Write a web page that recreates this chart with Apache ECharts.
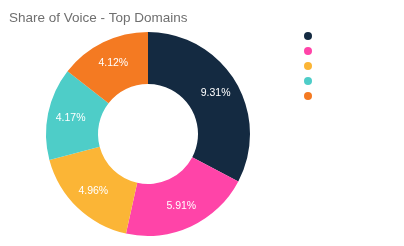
<!DOCTYPE html>
<html><head><meta charset="utf-8">
<script src="https://cdn.jsdelivr.net/npm/echarts@6/dist/echarts.min.js"></script>
<style>html,body{margin:0;padding:0;background:#fff}#c{width:404px;height:246px}</style>
</head><body><div id="c"></div>
<script>
const titleText = 'Share of Voice - Top Domains';
const categories = ['Domain 1', 'Domain 2', 'Domain 3', 'Domain 4', 'Domain 5'];
const values = [9.31, 5.91, 4.96, 4.17, 4.12];
const colors = ['#142a41', '#ff44a8', '#fbb536', '#4ecdc8', '#f47a22'];

const chart = echarts.init(document.getElementById('c'));
chart.setOption({
  animation: false,
  color: colors,
  title: {
    text: titleText, left: 4, top: 6,
    textStyle: { fontFamily: 'Liberation Sans, Arial, sans-serif', fontSize: 13.5, fontWeight: 'normal', color: '#6f6f6f' }
  },
  legend: {
    orient: 'vertical', left: 299, top: 27,
    icon: 'circle', itemWidth: 8, itemHeight: 8, itemGap: 7,
    formatter: () => '',
    data: categories
  },
  series: [{
    type: 'pie',
    center: [148, 134],
    radius: [50, 102],
    startAngle: 90,
    clockwise: true,
    label: {
      position: 'inside',
      formatter: p => p.value.toFixed(2) + '%',
      color: '#fff', fontSize: 10.5,
      fontFamily: 'Liberation Sans, Arial, sans-serif'
    },
    labelLine: { show: false },
    itemStyle: { borderWidth: 0 },
    emphasis: { disabled: true },
    data: categories.map((n, i) => ({ name: n, value: values[i] }))
  }]
});
</script></body></html>
